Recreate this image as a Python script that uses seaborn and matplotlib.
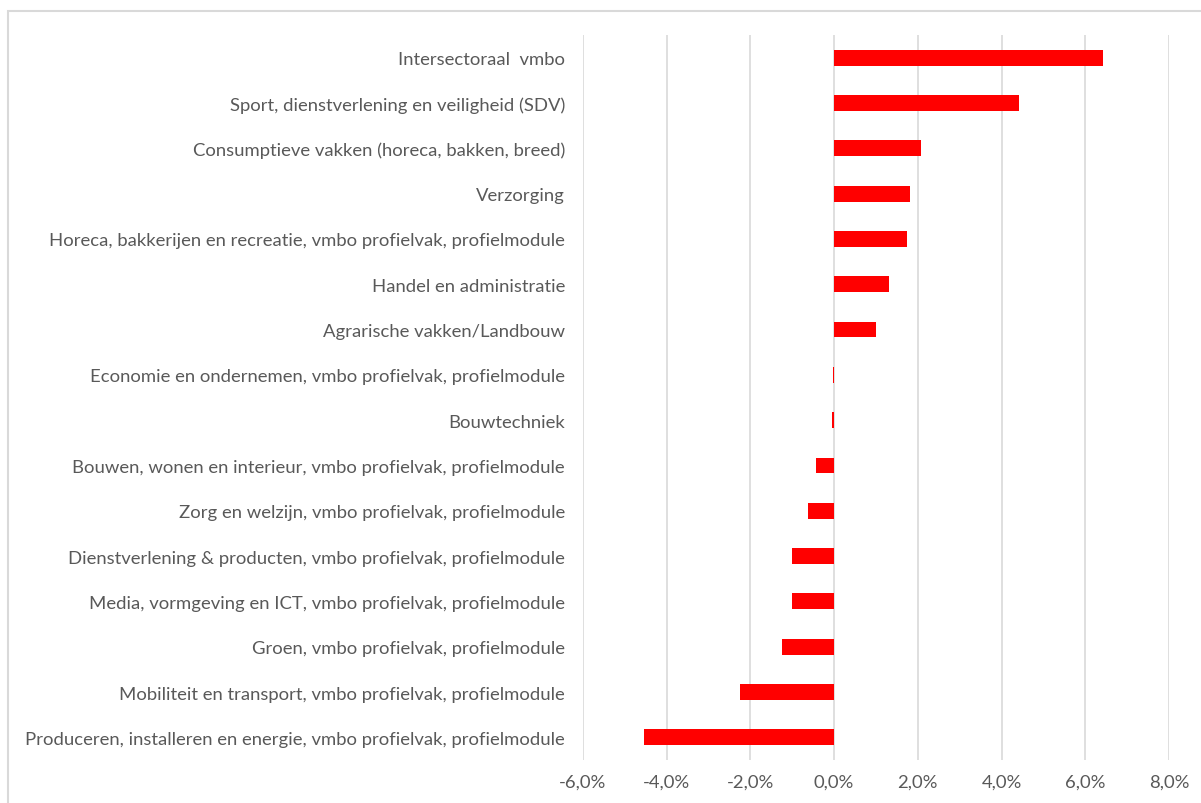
import matplotlib
matplotlib.use("Agg")
import matplotlib.pyplot as plt
import matplotlib.ticker as mticker
from matplotlib.patches import Rectangle
import seaborn as sns
import pandas as pd

categories = [
    "Intersectoraal  vmbo",
    "Sport, dienstverlening en veiligheid (SDV)",
    "Consumptieve vakken (horeca, bakken, breed)",
    "Verzorging",
    "Horeca, bakkerijen en recreatie, vmbo profielvak, profielmodule",
    "Handel en administratie",
    "Agrarische vakken/Landbouw",
    "Economie en ondernemen, vmbo profielvak, profielmodule",
    "Bouwtechniek",
    "Bouwen, wonen en interieur, vmbo profielvak, profielmodule",
    "Zorg en welzijn, vmbo profielvak, profielmodule",
    "Dienstverlening & producten, vmbo profielvak, profielmodule",
    "Media, vormgeving en ICT, vmbo profielvak, profielmodule",
    "Groen, vmbo profielvak, profielmodule",
    "Mobiliteit en transport, vmbo profielvak, profielmodule",
    "Produceren, installeren en energie, vmbo profielvak, profielmodule",
]
values = [6.42, 4.41, 2.08, 1.82, 1.75, 1.32, 1.0, -0.03, -0.05, -0.43,
          -0.62, -1.0, -1.0, -1.25, -2.25, -4.55]
tick_values = [-6, -4, -2, 0, 2, 4, 6, 8]

df = pd.DataFrame({"cat": categories, "val": values})

sns.set_theme(style="white")
plt.rcParams["font.family"] = ["Lato", "DejaVu Sans"]

fig = plt.figure(figsize=(12.01, 8.04), dpi=100)
ax = fig.add_axes([583 / 1201, 1 - 761 / 804, (1169 - 583) / 1201, (761 - 36) / 804])

# chart border
fig.patches.append(Rectangle((8 / 1201, -0.1), 1.2, 1 - 12 / 804 + 0.1,
                             transform=fig.transFigure, fill=False,
                             edgecolor="#d9d9d9", linewidth=1.5, zorder=0))

sns.barplot(data=df, x="val", y="cat", color="#ff0000", saturation=1,
            width=0.35, orient="h", ax=ax, linewidth=0, zorder=3)

ax.set_xlim(-6, 8)
ax.set_xticks(tick_values)
ax.xaxis.set_major_formatter(mticker.FuncFormatter(lambda v, p: f"{v:.1f}%".replace(".", ",")))
ax.grid(axis="x", color="#d9d9d9", linewidth=1.2, zorder=0)
ax.set_axisbelow(True)
for s in ax.spines.values():
    s.set_visible(False)
ax.set_xlabel("")
ax.set_ylabel("")
ax.tick_params(axis="y", length=0, pad=13, labelsize=13.3, labelcolor="#595959")
ax.tick_params(axis="x", length=0, pad=10, labelsize=13.3, labelcolor="#595959")

fig.savefig("out.png", dpi=100)
